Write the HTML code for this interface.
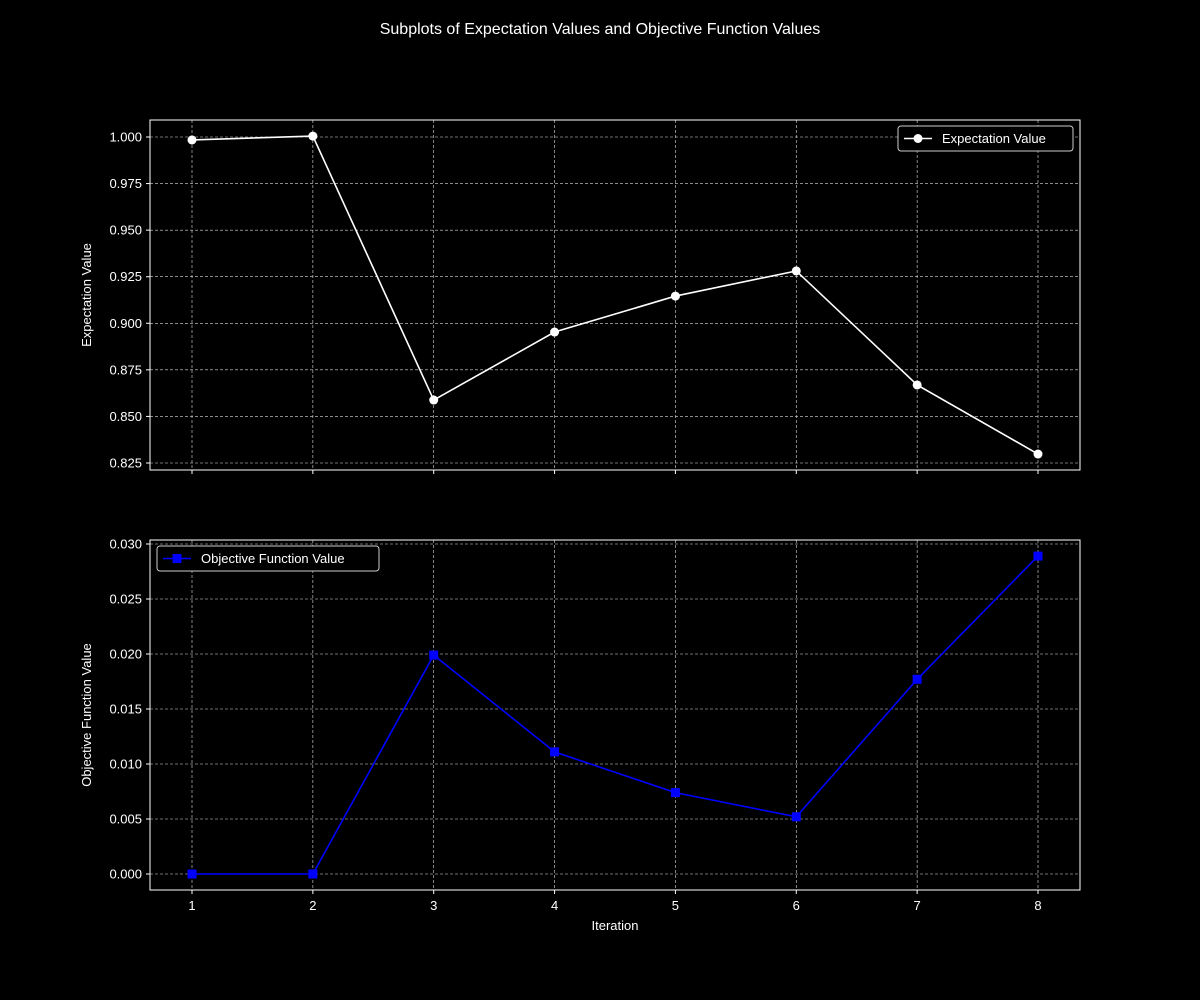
<!DOCTYPE html>
<html><head><meta charset="utf-8"><style>
body{margin:0;background:#000;}
svg{display:block;font-family:"Liberation Sans","DejaVu Sans",sans-serif;}
</style></head><body>
<svg id="c" width="1200" height="1000">
<rect width="1200" height="1000" fill="#000"/>
<text x="600" y="34" fill="#fff" font-size="16" text-anchor="middle">Subplots of Expectation Values and Objective Function Values</text>
</svg>
<script>
const iterations=[1,2,3,4,5,6,7,8];
const expectationValues=[0.9984,1.0005,0.8588,0.8953,0.9146,0.9281,0.8669,0.8298];
const objectiveValues=[0,0,0.0199,0.0111,0.0074,0.0052,0.0177,0.0289];
const topTicks=[0.825,0.850,0.875,0.900,0.925,0.950,0.975,1.000];
const botTicks=[0,0.005,0.010,0.015,0.020,0.025,0.030];
const NS="http://www.w3.org/2000/svg";
const svg=document.getElementById('c');
function mk(t,a,p){const e=document.createElementNS(NS,t);for(const k in a)e.setAttribute(k,a[k]);(p||svg).appendChild(e);return e;}
const L=150,R=1080;
const xs=v=>192+(v-1)*(1038-192)/7;
function panel(top,bot,ys,ticks,dec,vals,color,marker,label,ylabel,legendRight,showX,pname,lw){
  const g=mk('g',{});
  
  
  ticks.forEach(t=>{const y=ys(t);
    const l=mk('line',{x1:L,x2:R,y1:y,y2:y,stroke:'#ddd','stroke-width':0.6,'stroke-dasharray':'3,2'},g);
    
    mk('line',{x1:L-4,x2:L,y1:y,y2:y,stroke:'#fff'},g);
    const tx=mk('text',{x:L-8,y:y+4.5,fill:'#fff','font-size':13,'text-anchor':'end'},g);tx.textContent=t.toFixed(dec);
    });
  iterations.forEach(i=>{const x=xs(i);
    const l=mk('line',{x1:x,x2:x,y1:top,y2:bot,stroke:'#ddd','stroke-width':0.6,'stroke-dasharray':'3,2'},g);
    
    mk('line',{x1:x,x2:x,y1:bot,y2:bot+4,stroke:'#fff'},g);
    if(showX){const tx=mk('text',{x:x,y:bot+20,fill:'#fff','font-size':13,'text-anchor':'middle'},g);tx.textContent=i;
      }});
  const fr=mk('rect',{x:L,y:top,width:R-L,height:bot-top,fill:'none',stroke:'#fff','stroke-width':1},g);
  
  const yl=mk('text',{x:0,y:0,fill:'#fff','font-size':13,'text-anchor':'middle',transform:`translate(91,${(top+bot)/2}) rotate(-90)`},g);
  yl.textContent=ylabel;
  const pts=iterations.map((v,k)=>[xs(v),ys(vals[k])]);
  const pl=mk('polyline',{points:pts.map(p=>p.join(',')).join(' '),fill:'none',stroke:color,'stroke-width':1.6},g);
  
  pts.forEach(p=>{let m;
    if(marker==='o')m=mk('circle',{cx:p[0],cy:p[1],r:4.5,fill:color},g);
    else m=mk('rect',{x:p[0]-4.5,y:p[1]-4.5,width:9,height:9,fill:color},g);
    });
  const lx=legendRight?R-7-lw:L+7;const ly=top+6;
  const lg=mk('g',{},g);
  mk('rect',{x:lx,y:ly,width:lw,height:25,rx:3,fill:'#000',stroke:'#ccc','stroke-width':1},lg);
  mk('line',{x1:lx+6,x2:lx+34,y1:ly+12.5,y2:ly+12.5,stroke:color,'stroke-width':1.6},lg);
  if(marker==='o')mk('circle',{cx:lx+20,cy:ly+12.5,r:4.5,fill:color},lg);
  else mk('rect',{x:lx+15.5,y:ly+8,width:9,height:9,fill:color},lg);
  const lt=mk('text',{x:lx+44,y:ly+17,fill:'#fff','font-size':13},lg);lt.textContent=label;
  
}
panel(120,470,v=>137+(1-v)/0.025*46.57,topTicks,3,expectationValues,'#fff','o','Expectation Value','Expectation Value',true,false,'expectation-panel',175);
panel(540,890,v=>874-v/0.005*55,botTicks,3,objectiveValues,'#0000ff','s','Objective Function Value','Objective Function Value',false,true,'objective-panel',222);
const xt=mk('text',{x:615,y:930,fill:'#fff','font-size':13,'text-anchor':'middle'});xt.textContent='Iteration';


</script>
</body></html>
